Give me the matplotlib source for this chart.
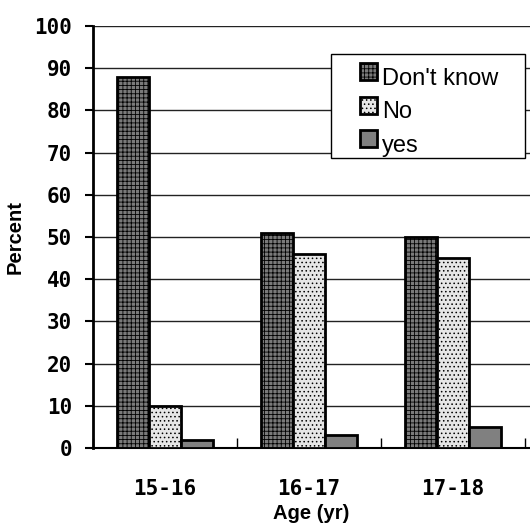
import numpy as np
import matplotlib.pyplot as plt
from matplotlib.patches import Rectangle
from matplotlib.container import BarContainer
from matplotlib.legend_handler import HandlerPatch

# Define data
AGES = ["15-16", "16-17", "17-18"]
SERIES = ["Don't know", "No", "yes"]
DONT_KNOW = [88, 51, 50]
NO = [10, 46, 45]
YES = [2, 3, 5]
Y_TICKS = list(range(0, 101, 10))


def small_square(legend, orig_handle, xdescent, ydescent, width, height, fontsize):
    """Square legend key sitting a little above the text baseline."""
    side = 0.72 * fontsize
    return Rectangle((-xdescent, -ydescent + 0.2 * fontsize), side, side)


def copy_first_bar(legend_handle, orig_handle):
    legend_handle.update_from(orig_handle.patches[0])


def plot_chart():
    """Grouped bar chart of answers by age group."""
    plt.rcParams["hatch.color"] = "#444444"
    plt.rcParams["hatch.linewidth"] = 0.6
    fig = plt.figure(figsize=(5.3, 5.25), dpi=100)
    ax = fig.add_axes([0.1755, 0.1467, 0.8245, 0.8038])

    x = np.arange(len(AGES))
    w = 0.222
    styles = [
        dict(facecolor="#7a7a7a", hatch="++++", label=SERIES[0]),
        dict(facecolor="#e6e6e6", hatch="....", label=SERIES[1]),
        dict(facecolor="#808080", hatch=None, label=SERIES[2]),
    ]
    for i, (vals, st) in enumerate(zip([DONT_KNOW, NO, YES], styles)):
        ax.bar(x + (i - 1) * w, vals, w, edgecolor="black", linewidth=2,
               zorder=3, **st)

    ax.set_xlim(-0.5, 2.535)
    ax.set_ylim(0, 100)
    ax.set_yticks(Y_TICKS)
    ax.yaxis.grid(True, color="#222222", linewidth=1)
    ax.set_axisbelow(True)

    ax.set_xticks([-0.5, 0.5, 1.5, 2.5])
    ax.set_xticklabels([])
    ax.set_xticks(x, minor=True)
    ax.set_xticklabels(AGES, minor=True, family="DejaVu Sans Mono",
                       fontweight="bold", fontsize=15)
    ax.tick_params(axis="x", which="minor", length=0, pad=22)
    ax.tick_params(axis="x", which="major", length=7, width=1, direction="in")
    ax.tick_params(axis="y", length=6, width=1.5, pad=9)
    for lbl in ax.get_yticklabels():
        lbl.set_family("DejaVu Sans Mono")
        lbl.set_fontweight("bold")
        lbl.set_fontsize(15)

    for s in ["top", "right"]:
        ax.spines[s].set_visible(False)
    ax.spines["left"].set_linewidth(2)
    ax.spines["bottom"].set_linewidth(1.5)

    ax.set_ylabel("Percent", family="Liberation Sans", fontweight="bold",
                  fontsize=14.5, labelpad=7)
    ax.set_xlabel("Age (yr)", family="Liberation Sans", fontweight="bold",
                  fontsize=14.5, labelpad=4)

    # legend box drawn by hand (padding is wider on the left than matplotlib allows)
    box = Rectangle((331 / 530, 1 - 158 / 525), 194 / 530, 104 / 525,
                    transform=fig.transFigure, facecolor="white",
                    edgecolor="black", linewidth=1, zorder=5)
    fig.patches.append(box)

    handler = HandlerPatch(patch_func=small_square, update_func=copy_first_bar)
    leg = fig.legend(loc="upper left", bbox_to_anchor=(360 / 530, 1 - 68 / 525),
                     prop={"family": "Liberation Sans", "size": 17},
                     frameon=False, handlelength=0.72, handleheight=0.7,
                     handletextpad=0.2, labelspacing=0.48, borderpad=0,
                     borderaxespad=0, handler_map={BarContainer: handler})
    leg.set_zorder(6)

    plt.savefig("out.png", dpi=100)


if __name__ == "__main__":
    plot_chart()
